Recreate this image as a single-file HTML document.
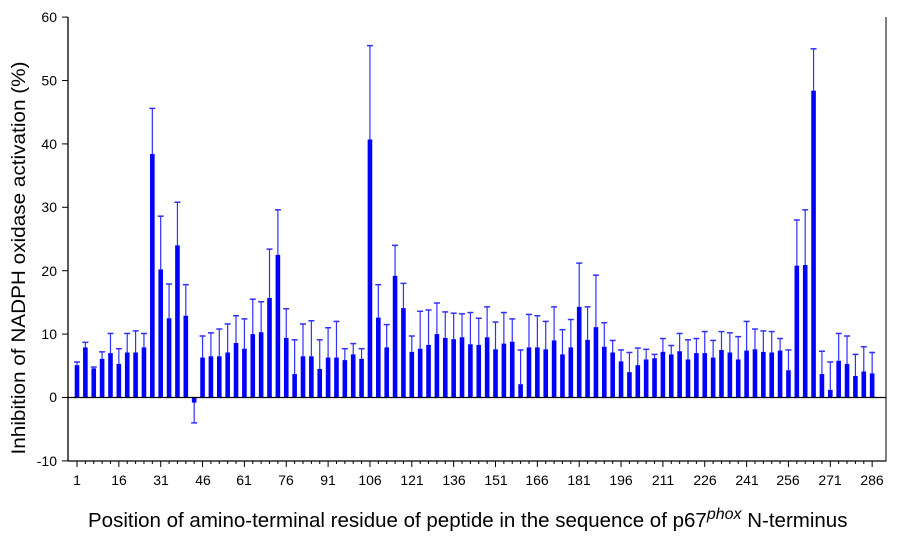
<!DOCTYPE html>
<html><head><meta charset="utf-8"><style>
html,body{margin:0;padding:0;background:#fff;}
svg{display:block;font-family:"Liberation Sans",Arial,sans-serif;}
</style></head><body>
<svg id="s" width="900" height="542" viewBox="0 0 900 542" xmlns="http://www.w3.org/2000/svg">
<g id="g"></g>
<g font-size="14" fill="#000" text-anchor="end">
<text x="57" y="22">60</text>
<text x="57" y="85.5">50</text>
<text x="57" y="149">40</text>
<text x="57" y="212">30</text>
<text x="57" y="276">20</text>
<text x="57" y="339">10</text>
<text x="57" y="402">0</text>
<text x="57" y="466">-10</text>
</g>
<g font-size="14" fill="#000" text-anchor="middle">
<text x="77" y="485">1</text><text x="119" y="485">16</text><text x="161" y="485">31</text><text x="203" y="485">46</text><text x="244" y="485">61</text><text x="286" y="485">76</text><text x="328" y="485">91</text><text x="370" y="485">106</text><text x="412" y="485">121</text><text x="454" y="485">136</text><text x="496" y="485">151</text><text x="537" y="485">166</text><text x="579" y="485">181</text><text x="621" y="485">196</text><text x="663" y="485">211</text><text x="705" y="485">226</text><text x="747" y="485">241</text><text x="788" y="485">256</text><text x="830" y="485">271</text><text x="872" y="485">286</text>
</g>
<text transform="translate(25,258) rotate(-90)" font-size="19" text-anchor="middle" textLength="393" lengthAdjust="spacingAndGlyphs">Inhibition of NADPH oxidase activation (%)</text>
<text x="88" y="527" font-size="20.5">Position of amino-terminal residue of peptide in the sequence of p67<tspan font-style="italic" font-size="16" dy="-8">phox</tspan><tspan dy="8"> N-terminus</tspan></text>
</svg>
<script>
var v=[[5.1,5.6],[7.9,8.7],[4.6,4.8],[6.1,7.2],[7.0,10.1],[5.3,7.7],[7.1,10.1],[7.1,10.5],[7.9,10.1],[38.4,45.6],[20.2,28.6],[12.5,17.9],[24.0,30.8],[12.9,17.8],[-0.8,-4.0],[6.3,9.7],[6.5,10.2],[6.5,10.8],[7.1,11.6],[8.6,12.9],[7.7,12.4],[10.0,15.5],[10.3,15.1],[15.7,23.4],[22.5,29.6],[9.4,14.0],[3.7,9.1],[6.5,11.6],[6.5,12.1],[4.5,9.1],[6.3,11.0],[6.3,12.0],[5.9,7.7],[6.8,8.5],[6.1,7.7],[40.7,55.5],[12.6,17.8],[7.9,11.5],[19.2,24.0],[14.1,18.0],[7.2,9.7],[7.7,13.6],[8.3,13.8],[10.0,14.9],[9.4,13.5],[9.2,13.3],[9.5,13.2],[8.4,13.4],[8.3,12.5],[9.5,14.3],[7.6,11.9],[8.5,13.4],[8.8,12.4],[2.1,7.5],[7.9,13.1],[7.9,12.9],[7.6,12.0],[9.0,14.3],[6.8,10.7],[7.9,12.3],[14.3,21.2],[9.1,14.3],[11.1,19.3],[8.0,11.8],[7.1,9.0],[5.7,7.5],[4.0,7.1],[5.1,7.8],[6.0,7.6],[6.2,6.8],[7.2,9.3],[6.8,8.2],[7.3,10.1],[6.0,9.1],[7.0,9.3],[7.0,10.4],[6.3,9.0],[7.5,10.4],[7.1,10.2],[6.0,9.6],[7.4,12.0],[7.6,10.8],[7.2,10.5],[7.1,10.4],[7.4,9.3],[4.3,7.5],[20.8,28.0],[20.9,29.6],[48.4,55.0],[3.7,7.3],[1.2,5.6],[5.8,10.1],[5.3,9.7],[3.4,6.8],[4.1,8.0],[3.8,7.1]];
function Y(d){return 397.5-d*6.34;}
var h='';
for(var i=0;i<v.length;i++){var x=77+i*8.37,a=v[i][0],e=v[i][1];
var t=Math.min(Y(a),397.5),b=Math.max(Y(a),397.5);
h+='<rect x="'+(x-2.3)+'" y="'+t+'" width="4.6" height="'+(b-t)+'" fill="#0000ff"/>';
h+='<line x1="'+x+'" x2="'+x+'" y1="'+Y(a)+'" y2="'+Y(e)+'" stroke="#3030ff" stroke-width="1.2"/>';
h+='<line x1="'+(x-3)+'" x2="'+(x+3)+'" y1="'+Y(e)+'" y2="'+Y(e)+'" stroke="#3030ff" stroke-width="1.5"/>';
var L=(i%5==0)?6:3;h+='<line x1="'+x+'" x2="'+x+'" y1="461" y2="'+(461+L)+'" stroke="#000"/>';}
for(var k=-10;k<=60;k+=10){h+='<line x1="62" x2="68" y1="'+Y(k)+'" y2="'+Y(k)+'" stroke="#000"/>';}
h+='<line x1="68" x2="886" y1="397.5" y2="397.5" stroke="#000" stroke-width="1.3"/>';
h+='<line x1="68" x2="68" y1="17" y2="461.5" stroke="#000" stroke-width="1.3"/>';
h+='<line x1="68" x2="886" y1="461" y2="461" stroke="#000" stroke-width="1.3"/>';
h+='<line x1="886" x2="886" y1="17" y2="461.5" stroke="#000"/>';
document.getElementById('g').innerHTML=h;
</script>
</body></html>
